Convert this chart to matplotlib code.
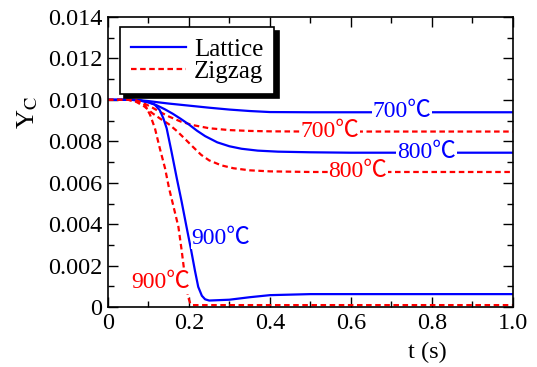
import matplotlib
matplotlib.use("Agg")
import matplotlib.pyplot as plt

plt.rcParams['font.family'] = 'Liberation Serif'
plt.rcParams['mathtext.fontset'] = 'stix'

# --- podaci ocitani sa slike ---
# Lattice (plava, puna linija)
t_lat_700 = [0, 0.05, 0.08, 0.1, 0.12, 0.15, 0.2, 0.25, 0.3, 0.35, 0.4, 0.5, 1.0]
y_lat_700 = [0.0100, 0.0100, 0.00998, 0.00994, 0.00989, 0.00982, 0.00972, 0.00962,
             0.00953, 0.00946, 0.00941, 0.00940, 0.00940]

t_lat_800 = [0, 0.06, 0.08, 0.1, 0.12, 0.14, 0.16, 0.18, 0.2, 0.22, 0.24, 0.27,
             0.3, 0.33, 0.37, 0.42, 0.5, 0.6, 1.0]
y_lat_800 = [0.0100, 0.0100, 0.00996, 0.00988, 0.00974, 0.00955, 0.00933, 0.00908,
             0.00881, 0.00851, 0.00825, 0.00795, 0.00776, 0.00764, 0.00755, 0.00750,
             0.00747, 0.00745, 0.00745]

t_lat_900 = [0, 0.06, 0.08, 0.1, 0.115, 0.128, 0.137, 0.145, 0.157, 0.17, 0.182,
             0.194, 0.205, 0.215, 0.223, 0.232, 0.24, 0.25, 0.3, 0.35, 0.4, 0.5, 1.0]
y_lat_900 = [0.0100, 0.0100, 0.00997, 0.00988, 0.00978, 0.00950, 0.00910, 0.00863,
             0.00750, 0.00622, 0.00509, 0.00388, 0.00280, 0.00175, 0.00098, 0.00055,
             0.00038, 0.00032, 0.00036, 0.00048, 0.00058, 0.00063, 0.00063]

# Zigzag (crvena, isprekidana linija)
t_zig_700 = [0, 0.05, 0.07, 0.09, 0.11, 0.13, 0.15, 0.18, 0.21, 0.25, 0.3, 0.35,
             0.4, 0.5, 1.0]
y_zig_700 = [0.0100, 0.0100, 0.00995, 0.00982, 0.00962, 0.00940, 0.00920, 0.00895,
             0.00878, 0.00863, 0.00854, 0.00850, 0.00848, 0.00847, 0.00847]

t_zig_800 = [0, 0.05, 0.07, 0.09, 0.11, 0.13, 0.15, 0.17, 0.19, 0.21, 0.23, 0.25,
             0.28, 0.31, 0.35, 0.4, 0.5, 1.0]
y_zig_800 = [0.0100, 0.0100, 0.00990, 0.00968, 0.00935, 0.00908, 0.00883, 0.00850,
             0.00812, 0.00773, 0.00735, 0.00708, 0.00684, 0.00670, 0.00660, 0.00655,
             0.00652, 0.00652]

t_zig_900 = [0, 0.05, 0.07, 0.08, 0.091, 0.104, 0.116, 0.128, 0.141, 0.151, 0.161,
             0.174, 0.182, 0.19, 0.198, 0.203, 0.207, 0.25, 0.5, 1.0]
y_zig_900 = [0.0100, 0.0100, 0.00997, 0.0099, 0.00976, 0.00928, 0.00863, 0.00767,
             0.00670, 0.00573, 0.00493, 0.00388, 0.00275, 0.00150, 0.00050, 0.00020,
             0.00010, 0.00010, 0.00010, 0.00010]

# natpisi temperatura: (tekst, t, y, boja)
natpisi = [("700℃", 0.726, 0.00942, "blue"),
           ("700℃", 0.548, 0.00846, "red"),
           ("800℃", 0.787, 0.00744, "blue"),
           ("800℃", 0.617, 0.00652, "red"),
           ("900℃", 0.279, 0.00333, "blue"),
           ("900℃", 0.130, 0.00120, "red")]

x_ticks = [0, 0.2, 0.4, 0.6, 0.8, 1.0]
x_ticklabels = ["0", "0.2", "0.4", "0.6", "0.8", "1.0"]
y_ticks = [0, 0.002, 0.004, 0.006, 0.008, 0.010, 0.012, 0.014]
y_ticklabels = ["0", "0.002", "0.004", "0.006", "0.008", "0.010", "0.012", "0.014"]

# --- crtanje ---
fig = plt.figure(figsize=(5.37, 3.67), dpi=100)
ax = fig.add_axes([0.201, 0.163, 0.754, 0.791])

lw = 1.6
crt = (2.5, 1.6)  # uzorak isprekidane linije
ax.plot(t_lat_700, y_lat_700, color="blue", lw=lw, label="Lattice")
ax.plot(t_zig_700, y_zig_700, color="red", lw=lw, dashes=crt, label="Zigzag")
ax.plot(t_lat_800, y_lat_800, color="blue", lw=lw)
ax.plot(t_zig_800, y_zig_800, color="red", lw=lw, dashes=crt)
ax.plot(t_lat_900, y_lat_900, color="blue", lw=lw)
ax.plot(t_zig_900, y_zig_900, color="red", lw=lw, dashes=crt)

for tekst, xt, yt, boja in natpisi:
    ax.text(xt, yt, tekst, color=boja, fontsize=17, ha="center", va="center",
            family=["Liberation Serif", "Noto Sans CJK JP"],
            bbox=dict(facecolor="white", edgecolor="none", pad=0.5), zorder=5)

ax.set_xlim(0, 1.0)
ax.set_ylim(0, 0.014)
ax.set_xticks(x_ticks)
ax.set_xticklabels(x_ticklabels)
ax.set_yticks(y_ticks)
ax.set_yticklabels(y_ticklabels)
ax.set_xticks([0.1, 0.3, 0.5, 0.7, 0.9], minor=True)
ax.set_yticks([0.001, 0.003, 0.005, 0.007, 0.009, 0.011, 0.013], minor=True)
ax.tick_params(which="both", direction="in", top=True, right=True, labelsize=17.5, width=1)
ax.tick_params(which="major", length=7, pad=4)
ax.tick_params(which="minor", length=4)
for s in ax.spines.values():
    s.set_linewidth(1.2)

ax.set_xlabel("t (s)", fontsize=17.5)
ax.xaxis.set_label_coords(0.79, -0.12)
ax.set_ylabel(r"Y$_{\rm C}$", fontsize=19)
ax.yaxis.set_label_coords(-0.168, 0.67)

leg = ax.legend(loc="upper left", bbox_to_anchor=(0.03, 0.966), borderaxespad=0,
                fontsize=18, frameon=True, fancybox=False, handlelength=2.2,
                handletextpad=0.3, labelspacing=0.0, borderpad=0.45,
                shadow={"ox": 3, "oy": -3, "color": "black", "alpha": 1})
leg.get_frame().set_edgecolor("black")
leg.get_frame().set_linewidth(1.2)

fig.savefig("out.png", dpi=100)
